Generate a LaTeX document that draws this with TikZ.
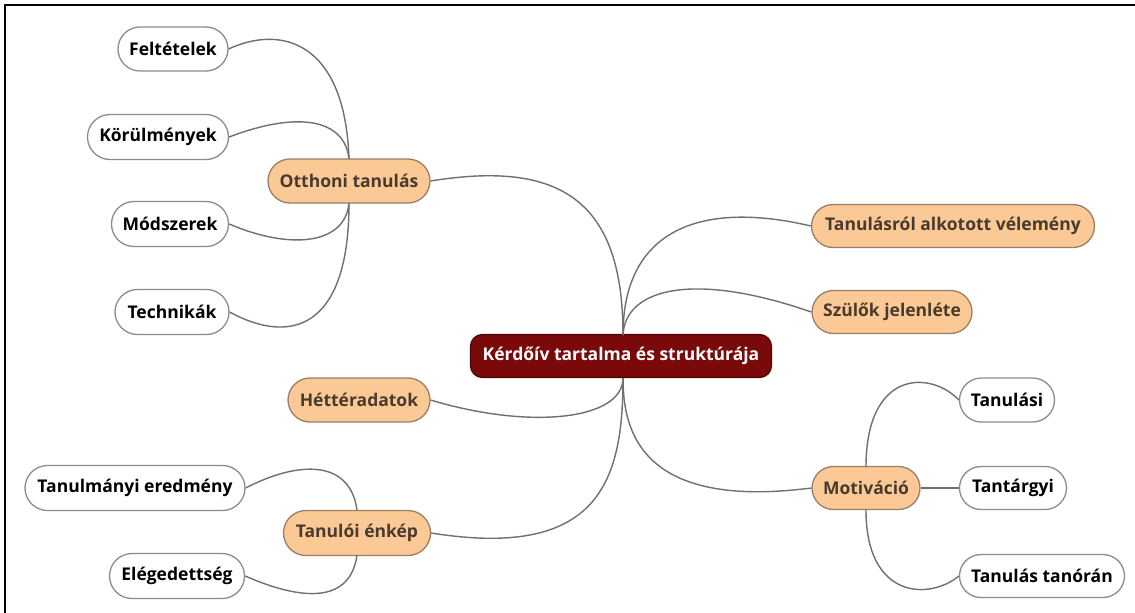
\documentclass[tikz,border=0pt]{standalone}
\usepackage{fontspec}
\setmainfont{Open Sans}
\usetikzlibrary{shapes.misc}
\definecolor{peach}{HTML}{FAC996}
\definecolor{peachdraw}{HTML}{9A7F66}
\definecolor{peachtext}{HTML}{4A3A2E}
\definecolor{rootfill}{HTML}{7A0A0A}
\definecolor{rootdraw}{HTML}{4A0505}
\definecolor{leafdraw}{HTML}{8C8C8C}
\definecolor{linkc}{HTML}{707070}
\begin{document}
\begin{tikzpicture}[x=1pt,y=-1pt,
  base/.style={rounded rectangle, inner sep=0pt, line width=1.3pt,
    font=\fontsize{17.5}{19}\selectfont\bfseries},
  leaf/.style={base, draw=leafdraw, fill=white, text=black},
  branch/.style={base, draw=peachdraw, fill=peach, text=peachtext},
  root/.style={rectangle, rounded corners=12pt, inner sep=0pt, line width=1.3pt,
    draw=rootdraw, fill=rootfill, text=white, font=\fontsize{17.5}{19}\selectfont\bfseries},
  link/.style={draw=linkc, line width=1.4pt}]
\useasboundingbox (0,0) rectangle (1135,613);
\fill[white] (0,0) rectangle (1135,613);
\draw[line width=2pt, black] (1135,4.5) -- (5,4.5) -- (5,613);

\coordinate (oN) at (349,159); \coordinate (oS) at (349,203);
\coordinate (cN) at (623,335); \coordinate (cS) at (623,378);
\coordinate (eN) at (357,510); \coordinate (eS) at (357,555);
\coordinate (mN) at (866,467); \coordinate (mS) at (866,510);

\node[root, minimum width=301pt, minimum height=43pt] (cen) at (621,356) {Kérdőív tartalma és struktúrája};

\node[branch, minimum width=162pt, minimum height=44pt] (oth) at (349,181) {Otthoni tanulás};
\node[branch, minimum width=142pt, minimum height=44pt] (het) at (359,400) {Héttéradatok};
\node[branch, minimum width=147pt, minimum height=45pt] (enk) at (357,533) {Tanulói énkép};
\node[branch, minimum width=283pt, minimum height=43pt] (vel) at (953,226) {Tanulásról alkotott vélemény};
\node[branch, minimum width=160pt, minimum height=43pt] (szul) at (892,312) {Szülők jelenléte};
\node[branch, minimum width=108pt, minimum height=43pt] (mot) at (866,488) {Motiváció};

\node[leaf, minimum width=110pt, minimum height=44pt] (fel) at (173,49) {Feltételek};
\node[leaf, minimum width=141pt, minimum height=45pt] (kor) at (158,137) {Körülmények};
\node[leaf, minimum width=117pt, minimum height=45pt] (mod) at (170,224) {Módszerek};
\node[leaf, minimum width=114pt, minimum height=45pt] (tech) at (172,312) {Technikák};
\node[leaf, minimum width=220pt, minimum height=45pt] (tanul) at (135,488) {Tanulmányi eredmény};
\node[leaf, minimum width=135pt, minimum height=45pt] (eleg) at (177,576) {Elégedettség};
\node[leaf, minimum width=95pt, minimum height=44pt] (tlasi) at (1007,400) {Tanulási};
\node[leaf, minimum width=107pt, minimum height=43pt] (tgy) at (1013,488) {Tantárgyi};
\node[leaf, minimum width=165pt, minimum height=43pt] (tor) at (1042,576) {Tanulás tanórán};

\path[link] (oth.east) .. controls (560,160) and (623,200) .. (cN);
\path[link] (cN) .. controls (623,230) and (700,200) .. (vel.west);
\path[link] (cN) .. controls (625,290) and (690,270) .. (szul.west);
\path[link] (het.east) .. controls (530,430) and (623,420) .. (cS);
\path[link] (enk.east) .. controls (600,560) and (623,480) .. (cS);
\path[link] (mot.west) .. controls (640,510) and (623,430) .. (cS);

\path[link] (oN) .. controls (345,40) and (280,25) .. (fel.east);
\path[link] (oN) .. controls (345,120) and (300,110) .. (kor.east);
\path[link] (oS) .. controls (345,245) and (290,250) .. (mod.east);
\path[link] (oS) .. controls (349,330) and (290,345) .. (tech.east);
\path[link] (eN) .. controls (350,460) and (300,460) .. (tanul.east);
\path[link] (eS) .. controls (350,605) and (300,600) .. (eleg.east);
\path[link] (mN) .. controls (866,370) and (930,370) .. (tlasi.west);
\path[link] (mot.east) -- (tgy.west);
\path[link] (mS) .. controls (866,600) and (930,600) .. (tor.west);
\end{tikzpicture}
\end{document}
